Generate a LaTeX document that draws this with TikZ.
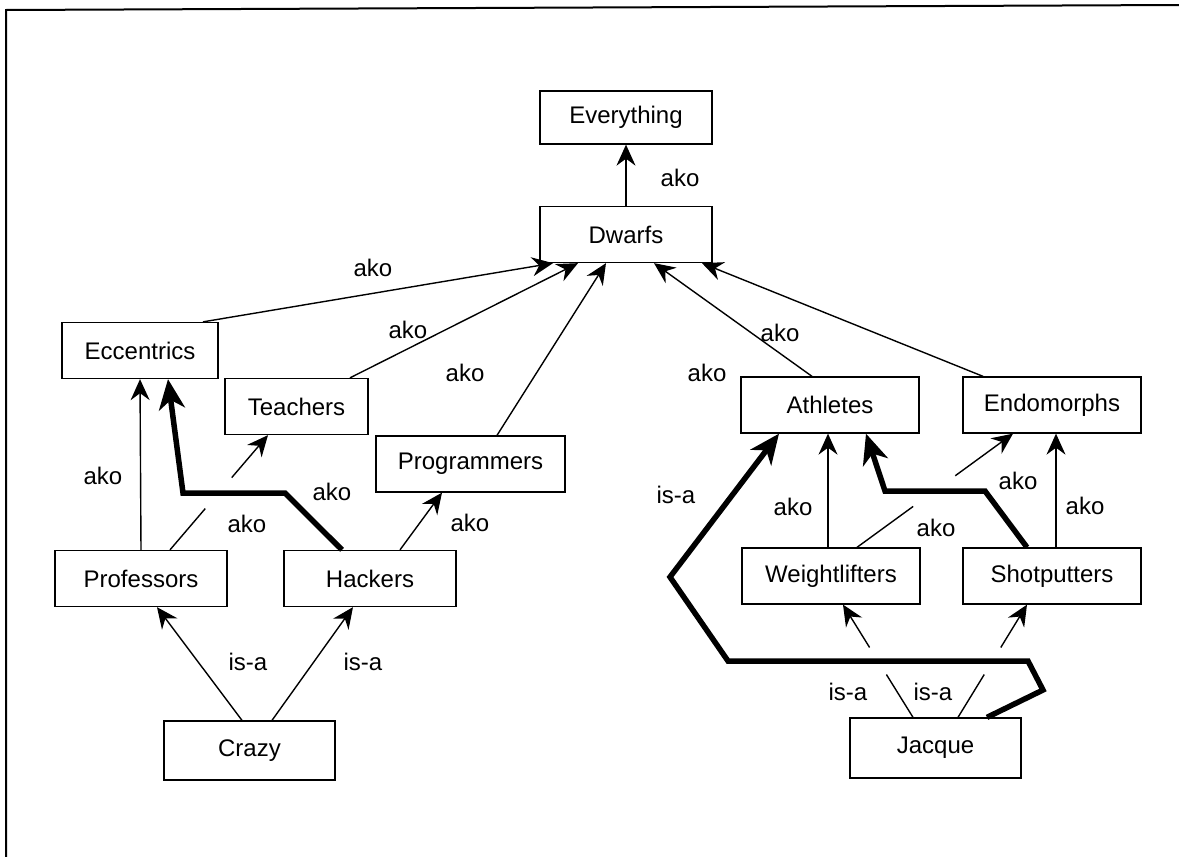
\documentclass[tikz,border=0pt]{standalone}
\usepackage{fontspec}
\setmainfont{Liberation Sans}
\usetikzlibrary{arrows.meta,calc}
\tikzset{%
  concept/.style = {shape=rectangle, draw, line width=1.3pt,
    minimum height=56pt, align=center,
    font=\fontsize{24}{28}\selectfont},
  rel/.style = {font=\fontsize{24}{28}\selectfont},
  ako/.style = {draw, line width=1.4pt,
    -{Stealth[length=21pt,width=19pt,inset=7pt]}},
  inherit/.style = {draw, line width=5.5pt, line join=miter,
    -{Stealth[length=30pt,width=26pt,inset=9pt]}}
}

\begin{document}
\begin{tikzpicture}[x=1pt,y=-1pt]
  \useasboundingbox (0,0) rectangle (1179,857);
  % what is left of the page frame
  \draw[line width=2pt] (6,857) -- (6,10) -- (1179,5);

  % classes
  \node[concept, minimum width=172pt, minimum height=53pt] (Everything) at (626,117.5) {Everything};
  \node[concept, minimum width=172pt] (Dwarfs) at (626,234.5) {Dwarfs};
  \node[concept, minimum width=156pt] (Eccentrics) at (140,350.5) {Eccentrics};
  \node[concept, minimum width=143pt] (Teachers) at (296.5,406.5) {Teachers};
  \node[concept, minimum width=189pt] (Programmers) at (470.5,464) {Programmers};
  \node[concept, minimum width=172pt] (Professors) at (141,578.5) {Professors};
  \node[concept, minimum width=172pt] (Hackers) at (370,578.5) {Hackers};
  \node[concept, minimum width=178pt] (Athletes) at (830,405) {Athletes};
  \node[concept, minimum width=178pt] (Endomorphs) at (1052,405) {Endomorphs};
  \node[concept, minimum width=178pt] (Weightlifters) at (831,576) {Weightlifters};
  \node[concept, minimum width=178pt] (Shotputters) at (1052,576) {Shotputters};
  % instances
  \node[concept, minimum width=171pt, minimum height=59pt] (Crazy) at (249.5,750.5) {Crazy};
  \node[concept, minimum width=171pt, minimum height=60pt] (Jacque) at (935.5,748) {Jacque};

  % ako links into Dwarfs and Everything
  \draw[ako] (Dwarfs) -- (Everything);
  \draw[ako] ([xshift=63pt]Eccentrics.north) -- ([xshift=-73pt]Dwarfs.south);
  \draw[ako] ([xshift=53.5pt]Teachers.north) -- ([xshift=-48pt]Dwarfs.south);
  \draw[ako] ([xshift=26.5pt]Programmers.north) -- ([xshift=-20pt]Dwarfs.south);
  \draw[ako] ([xshift=-18pt]Athletes.north) -- ([xshift=28pt]Dwarfs.south);
  \draw[ako] ([xshift=-69pt]Endomorphs.north) -- ([xshift=76pt]Dwarfs.south);

  % left part
  \draw[ako] (Professors.north) -- (Eccentrics.south);
  \coordinate (pr) at ([xshift=29pt]Professors.north);
  \coordinate (te) at ([xshift=-28.5pt]Teachers.south);
  \draw[line width=1.4pt] (pr) -- ($(pr)!.36!(te)$);
  \draw[ako] ($(pr)!.63!(te)$) -- (te);
  \draw[ako] ([xshift=30pt]Hackers.north) -- ([xshift=-28.5pt]Programmers.south);
  \draw[inherit] ([xshift=-28pt]Hackers.north) -- (285,493) -- (183,493)
    -- ([xshift=28pt]Eccentrics.south);
  \draw[ako] ([xshift=-7.5pt]Crazy.north) -- ([xshift=16pt]Professors.south);
  \draw[ako] ([xshift=22.5pt]Crazy.north) -- ([xshift=-17pt]Hackers.south);

  % right part
  \draw[ako] ([xshift=-3pt]Weightlifters.north) -- ([xshift=-2pt]Athletes.south);
  \coordinate (we) at ([xshift=26pt]Weightlifters.north);
  \coordinate (en) at ([xshift=-39pt]Endomorphs.south);
  \draw[line width=1.4pt] (we) -- ($(we)!.36!(en)$);
  \draw[ako] ($(we)!.63!(en)$) -- (en);
  \draw[ako] ([xshift=4pt]Shotputters.north) -- ([xshift=4pt]Endomorphs.south);
  \draw[inherit] ([xshift=-25pt]Shotputters.north) -- (985,491) -- (885,491)
    -- ([xshift=36pt]Athletes.south);
  \coordinate (ja1) at ([xshift=-22.5pt]Jacque.north);
  \coordinate (wl) at ([xshift=12pt]Weightlifters.south);
  \draw[line width=1.4pt] (ja1) -- ($(ja1)!.38!(wl)$);
  \draw[ako] ($(ja1)!.62!(wl)$) -- (wl);
  \coordinate (ja2) at ([xshift=22.5pt]Jacque.north);
  \coordinate (sp) at ([xshift=-25pt]Shotputters.south);
  \draw[line width=1.4pt] (ja2) -- ($(ja2)!.38!(sp)$);
  \draw[ako] ($(ja2)!.62!(sp)$) -- (sp);
  \draw[inherit] ([xshift=51.5pt]Jacque.north) -- (1043,690) -- (1028,661)
    -- (728,661) -- (670,577) -- ([xshift=-51pt]Athletes.south);

  % link labels
  \node[rel] (akoTop) at (680,178) {ako};
  \node[rel] (akoEcc) at (373,268) {ako};
  \node[rel] (akoTea) at (408,330) {ako};
  \node[rel] (akoPrg) at (465,373) {ako};
  \node[rel] (akoAth) at (707,373) {ako};
  \node[rel] (akoEnd) at (780,333) {ako};
  \node[rel] (akoPE) at (103,476) {ako};
  \node[rel] (akoPT) at (247,524) {ako};
  \node[rel] (akoHE) at (332,492) {ako};
  \node[rel] (akoHP) at (470,523) {ako};
  \node[rel] (akoWA) at (793,507) {ako};
  \node[rel] (akoWE) at (936,528) {ako};
  \node[rel] (akoSA) at (1018,481) {ako};
  \node[rel] (akoSE) at (1085,506) {ako};
  \node[rel] (isaCP) at (248,662) {is-a};
  \node[rel] (isaCH) at (363,662) {is-a};
  \node[rel] (isaJA) at (676,495) {is-a};
  \node[rel] (isaJW) at (848,692) {is-a};
  \node[rel] (isaJS) at (933,692) {is-a};
\end{tikzpicture}
\end{document}
